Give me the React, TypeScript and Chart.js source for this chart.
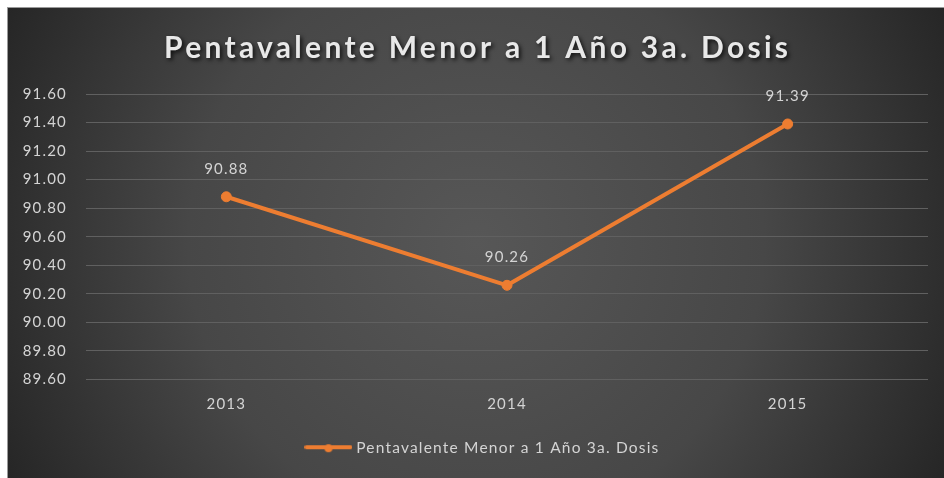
import React, { useEffect, useRef } from "react";
import { Chart, registerables } from "chart.js";

Chart.register(...registerables);

const TITLE = "Pentavalente Menor a 1 Año 3a. Dosis";
const SERIES_NAME = "Pentavalente Menor a 1 Año 3a. Dosis";
const YEARS = ["2013", "2014", "2015"];
const VALUES = [90.88, 90.26, 91.39];
const Y_MIN = 89.6;
const Y_MAX = 91.6;
const Y_STEP = 0.2;

const ORANGE = "#ED7D31";
const TEXT = "#d4d4d4";
const FONT = "Lato, 'Open Sans', sans-serif";
const BASE_SPACING = "1.2px";
const LEGEND_SHIFT = 16;

function makeLegendMarker(): HTMLCanvasElement {
  const c = document.createElement("canvas");
  c.width = 48;
  c.height = 12;
  const x = c.getContext("2d")!;
  x.strokeStyle = ORANGE;
  x.lineWidth = 4;
  x.lineCap = "round";
  x.beginPath();
  x.moveTo(2, 5);
  x.lineTo(46, 5);
  x.stroke();
  x.fillStyle = ORANGE;
  x.beginPath();
  x.arc(24, 6, 4, 0, Math.PI * 2);
  x.fill();
  return c;
}

const spacingPlugin = {
  id: "textSpacing",
  beforeUpdate(chart: any) {
    (chart.ctx as any).letterSpacing = BASE_SPACING;
  },
  beforeLayout(chart: any) {
    (chart.ctx as any).letterSpacing = BASE_SPACING;
  },
  afterLayout(chart: any) {
    const lg = chart.legend;
    if (lg) {
      lg.left += LEGEND_SHIFT;
      lg.right += LEGEND_SHIFT;
    }
  },
  beforeDraw(chart: any) {
    (chart.ctx as any).letterSpacing = BASE_SPACING;
  },
};

const backgroundPlugin = {
  id: "bgGradient",
  beforeDraw(chart: any) {
    const { ctx, width, height } = chart;
    ctx.save();
    const r = Math.hypot(width, height) / 2;
    const g = ctx.createRadialGradient(width / 2, height / 2, 0, width / 2, height / 2, r);
    g.addColorStop(0, "#575757");
    g.addColorStop(0.55, "#474747");
    g.addColorStop(1, "#262626");
    ctx.fillStyle = g;
    ctx.fillRect(0, 0, width, height);
    ctx.restore();
  },
};

const titlePlugin = {
  id: "spacedTitle",
  afterDraw(chart: any) {
    const { ctx, width } = chart;
    ctx.save();
    (ctx as any).letterSpacing = "0px";
    ctx.font = `bold 30px ${FONT}`;
    ctx.textAlign = "center";
    ctx.textBaseline = "alphabetic";
    const raw = ctx.measureText(TITLE).width;
    const spacing = Math.max(0, (624 - raw) / (TITLE.length - 1));
    (ctx as any).letterSpacing = spacing + "px";
    ctx.shadowColor = "rgba(0,0,0,0.8)";
    ctx.shadowBlur = 4;
    ctx.shadowOffsetX = 2;
    ctx.shadowOffsetY = 2;
    ctx.fillStyle = "#e8e8e8";
    ctx.fillText(TITLE, width / 2 + spacing / 2, 50);
    ctx.restore();
  },
};

const dataLabelPlugin = {
  id: "valueLabels",
  afterDatasetsDraw(chart: any) {
    const { ctx } = chart;
    const meta = chart.getDatasetMeta(0);
    ctx.save();
    (ctx as any).letterSpacing = BASE_SPACING;
    ctx.font = `15px ${FONT}`;
    ctx.fillStyle = TEXT;
    ctx.textAlign = "center";
    ctx.textBaseline = "middle";
    meta.data.forEach((pt: any, i: number) => {
      ctx.fillText(VALUES[i].toFixed(2), pt.x, pt.y - 28);
    });
    ctx.restore();
  },
};

export default function App() {
  const ref = useRef<HTMLCanvasElement>(null);

  useEffect(() => {
    const marker = makeLegendMarker();
    const chart = new Chart(ref.current!, {
      type: "line",
      data: {
        labels: YEARS,
        datasets: [
          {
            label: SERIES_NAME,
            data: VALUES,
            borderColor: ORANGE,
            backgroundColor: ORANGE,
            borderWidth: 4,
            pointRadius: 5,
            pointHoverRadius: 5,
            pointBackgroundColor: ORANGE,
            pointBorderColor: ORANGE,
            pointBorderWidth: 1,
            tension: 0,
            fill: false,
          },
        ],
      },
      options: {
        animation: false,
        responsive: true,
        maintainAspectRatio: false,
        layout: { padding: { top: 86, right: 16, left: 0, bottom: 12 } },
        plugins: {
          title: { display: false },
          tooltip: { enabled: false },
          legend: {
            display: true,
            position: "bottom",
            labels: {
              color: TEXT,
              font: { family: FONT, size: 15.5 },
              usePointStyle: true,
              pointStyleWidth: 40,
              padding: 19,
              generateLabels: () => [
                {
                  text: SERIES_NAME,
                  fillStyle: ORANGE,
                  strokeStyle: ORANGE,
                  fontColor: TEXT,
                  lineWidth: 0,
                  pointStyle: marker as any,
                  hidden: false,
                  datasetIndex: 0,
                },
              ],
            },
          },
        },
        scales: {
          x: {
            type: "category",
            offset: true,
            grid: { display: false },
            border: { display: false },
            ticks: { color: TEXT, font: { family: FONT, size: 15 }, padding: 8 },
            afterFit: (s: any) => {
              s.height = 42;
            },
          },
          y: {
            min: Y_MIN,
            max: Y_MAX,
            border: { display: false },
            grid: { color: "#606060", drawTicks: false, lineWidth: 1 },
            ticks: {
              stepSize: Y_STEP,
              color: TEXT,
              font: { family: FONT, size: 15 },
              padding: 19,
              callback: (v: any) => Number(v).toFixed(2),
            },
            afterFit: (s: any) => {
              s.width = 78;
            },
          },
        },
      },
      plugins: [spacingPlugin, backgroundPlugin, titlePlugin, dataLabelPlugin],
    });
    return () => chart.destroy();
  }, []);

  return (
    <div
      style={{
        position: "fixed",
        left: 7,
        top: 7,
        width: 937,
        height: 471,
        boxSizing: "border-box",
        borderTop: "1px solid #9a9a9a",
        borderLeft: "1px solid #9a9a9a",
      }}
    >
      <div style={{ position: "relative", width: 936, height: 470 }}>
        <canvas ref={ref} />
      </div>
    </div>
  );
}
